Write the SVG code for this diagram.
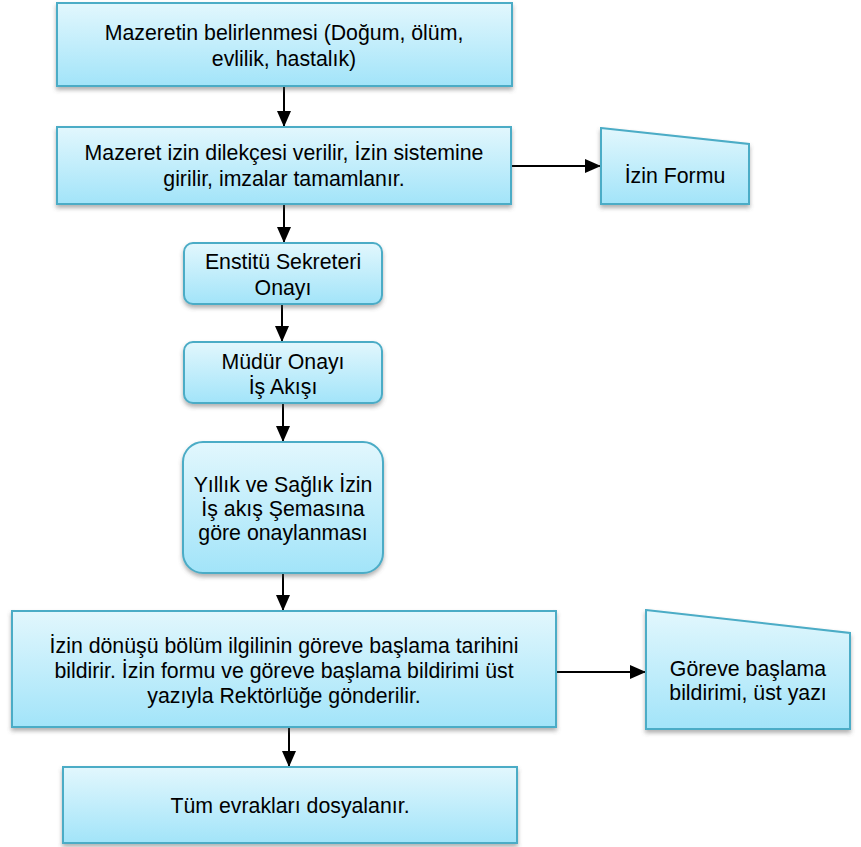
<svg xmlns="http://www.w3.org/2000/svg" width="861" height="847" viewBox="0 0 861 847">
<defs>
<linearGradient id="g" x1="0" y1="0" x2="0" y2="1">
<stop offset="0" stop-color="#e2f7fd"/>
<stop offset="1" stop-color="#a2e4f9"/>
</linearGradient>
<filter id="sh" x="-10%" y="-10%" width="120%" height="130%">
<feDropShadow dx="0" dy="3" stdDeviation="2" flood-color="#555" flood-opacity="0.45"/>
</filter>
<marker id="ah" viewBox="0 0 16 14" markerWidth="16" markerHeight="14" refX="16" refY="7" orient="auto" markerUnits="userSpaceOnUse">
<path d="M0,0 L16,7 L0,14 z" fill="#000"/>
</marker>
</defs>
<style>
.box{fill:url(#g);stroke:#4bacc6;stroke-width:2;filter:url(#sh)}
.t{font-family:"Liberation Sans",Arial,sans-serif;font-size:21.3px;fill:#000;text-anchor:middle}
.c{stroke:#000;stroke-width:2;fill:none;marker-end:url(#ah)}
</style>
<rect width="861" height="847" fill="#fff"/>
<g id="connectors">
<line class="c" x1="284" y1="86" x2="284" y2="127"/>
<line class="c" x1="511" y1="166" x2="601" y2="166"/>
<line class="c" x1="284" y1="204" x2="284" y2="243"/>
<line class="c" x1="282" y1="304" x2="282" y2="342"/>
<line class="c" x1="283" y1="403" x2="283" y2="442"/>
<line class="c" x1="283" y1="573" x2="283" y2="611"/>
<line class="c" x1="556" y1="672" x2="646" y2="672"/>
<line class="c" x1="289" y1="727" x2="289" y2="767"/>
</g>
<g id="n1">
<rect class="box" x="57" y="3" width="455" height="83"/>
<text class="t" x="284" y="40">Mazeretin belirlenmesi (Doğum, ölüm,</text>
<text class="t" x="284" y="66">evlilik, hastalık)</text>
</g>
<g id="n2">
<rect class="box" x="57" y="127" width="454" height="77"/>
<text class="t" x="284" y="160">Mazeret izin dilekçesi verilir, İzin sistemine</text>
<text class="t" x="284" y="186">girilir, imzalar tamamlanır.</text>
</g>
<g id="n3">
<polygon class="box" points="601,128 749,144 749,204 601,204"/>
<text class="t" x="675" y="183">İzin Formu</text>
</g>
<g id="n4">
<rect class="box" x="184" y="243" width="198" height="61" rx="9"/>
<text class="t" x="283" y="269">Enstitü Sekreteri</text>
<text class="t" x="283" y="295">Onayı</text>
</g>
<g id="n5">
<rect class="box" x="184" y="342" width="198" height="61" rx="9"/>
<text class="t" x="283" y="369">Müdür Onayı</text>
<text class="t" x="283" y="394">İş Akışı</text>
</g>
<g id="n6">
<rect class="box" x="183" y="442" width="200" height="131" rx="20"/>
<text class="t" x="283" y="492">Yıllık ve Sağlık İzin</text>
<text class="t" x="283" y="516">İş akış Şemasına</text>
<text class="t" x="283" y="540">göre onaylanması</text>
</g>
<g id="n7">
<rect class="box" x="12" y="611" width="544" height="116"/>
<text class="t" x="284" y="653">İzin dönüşü bölüm ilgilinin göreve başlama tarihini</text>
<text class="t" x="284" y="678">bildirir. İzin formu ve göreve başlama bildirimi üst</text>
<text class="t" x="284" y="703">yazıyla Rektörlüğe gönderilir.</text>
</g>
<g id="n8">
<polygon class="box" points="646,610 850,633 850,729 646,729"/>
<text class="t" x="748" y="676">Göreve başlama</text>
<text class="t" x="748" y="700">bildirimi, üst yazı</text>
</g>
<g id="n9">
<rect class="box" x="63" y="767" width="454" height="76"/>
<text class="t" x="290" y="813">Tüm evrakları dosyalanır.</text>
</g>
</svg>
